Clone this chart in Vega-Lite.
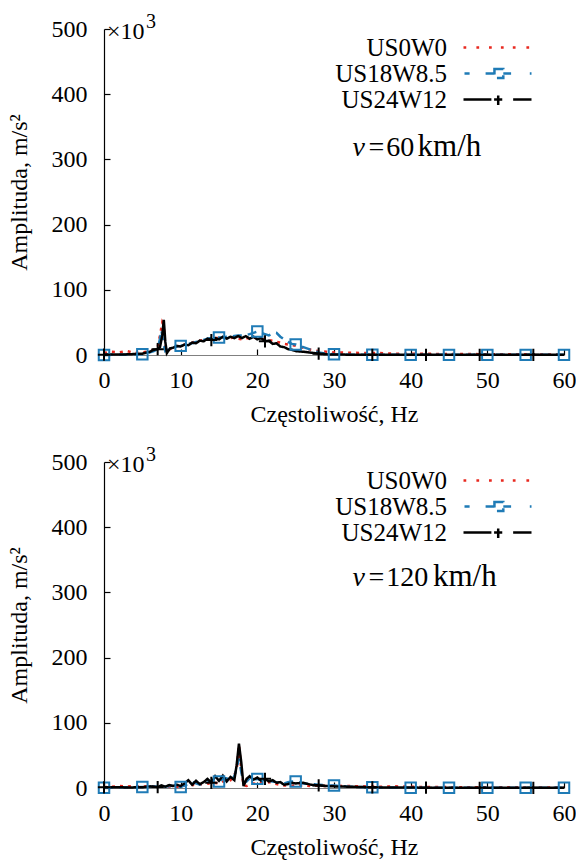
{
  "$schema": "https://vega.github.io/schema/vega-lite/v6.json",
  "background": "white",
  "padding": {"left": 7, "top": 12, "right": 0, "bottom": 5},
  "bounds": "flush",
  "spacing": 107,
  "datasets": {
    "v60": [
      {"s":"US0W0","f":0,"a":3},{"s":"US0W0","f":1,"a":5},{"s":"US0W0","f":2,"a":4},{"s":"US0W0","f":3,"a":6},{"s":"US0W0","f":4,"a":3},{"s":"US0W0","f":5,"a":4},{"s":"US0W0","f":6,"a":6},{"s":"US0W0","f":6.5,"a":8},{"s":"US0W0","f":7,"a":12},{"s":"US0W0","f":7.3,"a":30},{"s":"US0W0","f":7.6,"a":50},{"s":"US0W0","f":7.8,"a":45},{"s":"US0W0","f":8,"a":10},{"s":"US0W0","f":8.3,"a":6},{"s":"US0W0","f":8.6,"a":9},{"s":"US0W0","f":9,"a":11},{"s":"US0W0","f":9.5,"a":13},{"s":"US0W0","f":10,"a":15},{"s":"US0W0","f":10.5,"a":16},{"s":"US0W0","f":11,"a":18},{"s":"US0W0","f":11.5,"a":19},{"s":"US0W0","f":12,"a":21},{"s":"US0W0","f":12.5,"a":22},{"s":"US0W0","f":13,"a":23},{"s":"US0W0","f":13.5,"a":24},{"s":"US0W0","f":14,"a":25},{"s":"US0W0","f":14.5,"a":26},{"s":"US0W0","f":15,"a":26},{"s":"US0W0","f":15.5,"a":27},{"s":"US0W0","f":16,"a":27},{"s":"US0W0","f":16.5,"a":26},{"s":"US0W0","f":17,"a":27},{"s":"US0W0","f":17.5,"a":25},{"s":"US0W0","f":18,"a":24},{"s":"US0W0","f":18.5,"a":26},{"s":"US0W0","f":19,"a":25},{"s":"US0W0","f":19.5,"a":27},{"s":"US0W0","f":20,"a":25},{"s":"US0W0","f":20.5,"a":24},{"s":"US0W0","f":21,"a":25},{"s":"US0W0","f":21.5,"a":23},{"s":"US0W0","f":22,"a":22},{"s":"US0W0","f":22.5,"a":20},{"s":"US0W0","f":23,"a":19},{"s":"US0W0","f":23.5,"a":17},{"s":"US0W0","f":24,"a":16},{"s":"US0W0","f":24.5,"a":15},{"s":"US0W0","f":25,"a":14},{"s":"US0W0","f":26,"a":11},{"s":"US0W0","f":27,"a":8},{"s":"US0W0","f":28,"a":6},{"s":"US0W0","f":29,"a":5},{"s":"US0W0","f":30,"a":4},{"s":"US0W0","f":32,"a":3.5},{"s":"US0W0","f":34,"a":3},{"s":"US0W0","f":36,"a":3},{"s":"US0W0","f":38,"a":2},{"s":"US0W0","f":40,"a":2},{"s":"US0W0","f":42,"a":2},{"s":"US0W0","f":44,"a":1.5},{"s":"US0W0","f":46,"a":1.5},{"s":"US0W0","f":48,"a":1.5},{"s":"US0W0","f":50,"a":1},{"s":"US0W0","f":52,"a":1.2},{"s":"US0W0","f":54,"a":1},{"s":"US0W0","f":56,"a":1},{"s":"US0W0","f":58,"a":0.8},{"s":"US0W0","f":60,"a":0.8},
      {"s":"US18W8.5","f":0,"a":0},{"s":"US18W8.5","f":1,"a":0.5},{"s":"US18W8.5","f":2,"a":0.5},{"s":"US18W8.5","f":3,"a":0.8},{"s":"US18W8.5","f":4,"a":1},{"s":"US18W8.5","f":5,"a":1},{"s":"US18W8.5","f":6,"a":4},{"s":"US18W8.5","f":6.5,"a":6},{"s":"US18W8.5","f":7,"a":9},{"s":"US18W8.5","f":7.3,"a":25},{"s":"US18W8.5","f":7.5,"a":38},{"s":"US18W8.5","f":7.7,"a":20},{"s":"US18W8.5","f":8,"a":6},{"s":"US18W8.5","f":8.3,"a":8},{"s":"US18W8.5","f":8.6,"a":10},{"s":"US18W8.5","f":9,"a":12},{"s":"US18W8.5","f":9.5,"a":13},{"s":"US18W8.5","f":10,"a":14},{"s":"US18W8.5","f":10.5,"a":16},{"s":"US18W8.5","f":11,"a":17},{"s":"US18W8.5","f":11.5,"a":18},{"s":"US18W8.5","f":12,"a":20},{"s":"US18W8.5","f":12.5,"a":21},{"s":"US18W8.5","f":13,"a":23},{"s":"US18W8.5","f":13.5,"a":25},{"s":"US18W8.5","f":14,"a":26},{"s":"US18W8.5","f":14.5,"a":27},{"s":"US18W8.5","f":15,"a":27},{"s":"US18W8.5","f":15.5,"a":27},{"s":"US18W8.5","f":16,"a":28},{"s":"US18W8.5","f":16.5,"a":28},{"s":"US18W8.5","f":17,"a":29},{"s":"US18W8.5","f":17.5,"a":30},{"s":"US18W8.5","f":18,"a":30},{"s":"US18W8.5","f":18.5,"a":31},{"s":"US18W8.5","f":19,"a":32},{"s":"US18W8.5","f":19.5,"a":34},{"s":"US18W8.5","f":20,"a":36},{"s":"US18W8.5","f":20.5,"a":34},{"s":"US18W8.5","f":21,"a":32},{"s":"US18W8.5","f":21.5,"a":30},{"s":"US18W8.5","f":22,"a":33},{"s":"US18W8.5","f":22.5,"a":34},{"s":"US18W8.5","f":23,"a":28},{"s":"US18W8.5","f":23.5,"a":24},{"s":"US18W8.5","f":24,"a":20},{"s":"US18W8.5","f":24.5,"a":17},{"s":"US18W8.5","f":25,"a":16},{"s":"US18W8.5","f":26,"a":12},{"s":"US18W8.5","f":27,"a":8},{"s":"US18W8.5","f":28,"a":4},{"s":"US18W8.5","f":29,"a":2},{"s":"US18W8.5","f":30,"a":1},{"s":"US18W8.5","f":32,"a":0.5},{"s":"US18W8.5","f":35,"a":0.3},{"s":"US18W8.5","f":40,"a":0.2},{"s":"US18W8.5","f":45,"a":0.2},{"s":"US18W8.5","f":50,"a":0.2},{"s":"US18W8.5","f":55,"a":0.2},{"s":"US18W8.5","f":60,"a":0.2},
      {"s":"US24W12","f":0,"a":0.5},{"s":"US24W12","f":1,"a":0.8},{"s":"US24W12","f":2,"a":0.6},{"s":"US24W12","f":3,"a":1},{"s":"US24W12","f":4,"a":1.5},{"s":"US24W12","f":5,"a":2},{"s":"US24W12","f":6,"a":5},{"s":"US24W12","f":6.5,"a":8},{"s":"US24W12","f":7,"a":9},{"s":"US24W12","f":7.3,"a":12},{"s":"US24W12","f":7.6,"a":30},{"s":"US24W12","f":7.8,"a":54},{"s":"US24W12","f":8,"a":20},{"s":"US24W12","f":8.2,"a":3},{"s":"US24W12","f":8.6,"a":10},{"s":"US24W12","f":9,"a":11},{"s":"US24W12","f":9.5,"a":14},{"s":"US24W12","f":10,"a":13},{"s":"US24W12","f":10.5,"a":16},{"s":"US24W12","f":11,"a":15},{"s":"US24W12","f":11.5,"a":19},{"s":"US24W12","f":12,"a":18},{"s":"US24W12","f":12.5,"a":22},{"s":"US24W12","f":13,"a":21},{"s":"US24W12","f":13.5,"a":25},{"s":"US24W12","f":14,"a":23},{"s":"US24W12","f":14.5,"a":26},{"s":"US24W12","f":15,"a":24},{"s":"US24W12","f":15.5,"a":28},{"s":"US24W12","f":16,"a":25},{"s":"US24W12","f":16.5,"a":28},{"s":"US24W12","f":17,"a":26},{"s":"US24W12","f":17.5,"a":29},{"s":"US24W12","f":18,"a":26},{"s":"US24W12","f":18.5,"a":29},{"s":"US24W12","f":19,"a":25},{"s":"US24W12","f":19.5,"a":28},{"s":"US24W12","f":20,"a":24},{"s":"US24W12","f":20.5,"a":26},{"s":"US24W12","f":21,"a":21},{"s":"US24W12","f":21.5,"a":22},{"s":"US24W12","f":22,"a":17},{"s":"US24W12","f":22.5,"a":18},{"s":"US24W12","f":23,"a":13},{"s":"US24W12","f":23.5,"a":12},{"s":"US24W12","f":24,"a":9},{"s":"US24W12","f":24.5,"a":8},{"s":"US24W12","f":25,"a":6},{"s":"US24W12","f":26,"a":5},{"s":"US24W12","f":27,"a":3.5},{"s":"US24W12","f":28,"a":2},{"s":"US24W12","f":29,"a":1},{"s":"US24W12","f":30,"a":0.8},{"s":"US24W12","f":32,"a":0.5},{"s":"US24W12","f":35,"a":0.3},{"s":"US24W12","f":38,"a":0.2},{"s":"US24W12","f":42,"a":0.2},{"s":"US24W12","f":46,"a":0.2},{"s":"US24W12","f":49,"a":0.2},{"s":"US24W12","f":52,"a":0.2},{"s":"US24W12","f":56,"a":0.2},{"s":"US24W12","f":60,"a":0.2}
    ],
    "v120": [
      {"s":"US0W0","f":0,"a":1},{"s":"US0W0","f":1,"a":2},{"s":"US0W0","f":2,"a":3},{"s":"US0W0","f":3,"a":2},{"s":"US0W0","f":4,"a":3},{"s":"US0W0","f":5,"a":2},{"s":"US0W0","f":6,"a":3},{"s":"US0W0","f":7,"a":2},{"s":"US0W0","f":8,"a":2.5},{"s":"US0W0","f":9,"a":2},{"s":"US0W0","f":10,"a":2},{"s":"US0W0","f":10.5,"a":4},{"s":"US0W0","f":11,"a":3},{"s":"US0W0","f":11.5,"a":5},{"s":"US0W0","f":12,"a":4},{"s":"US0W0","f":12.5,"a":6},{"s":"US0W0","f":13,"a":5},{"s":"US0W0","f":13.5,"a":7},{"s":"US0W0","f":14,"a":6},{"s":"US0W0","f":14.5,"a":8},{"s":"US0W0","f":15,"a":7},{"s":"US0W0","f":15.5,"a":10},{"s":"US0W0","f":16,"a":9},{"s":"US0W0","f":16.5,"a":12},{"s":"US0W0","f":17,"a":20},{"s":"US0W0","f":17.3,"a":28},{"s":"US0W0","f":17.6,"a":66},{"s":"US0W0","f":17.9,"a":30},{"s":"US0W0","f":18.2,"a":4},{"s":"US0W0","f":18.6,"a":3},{"s":"US0W0","f":19,"a":5},{"s":"US0W0","f":19.5,"a":7},{"s":"US0W0","f":20,"a":6},{"s":"US0W0","f":20.5,"a":8},{"s":"US0W0","f":21,"a":7},{"s":"US0W0","f":21.5,"a":9},{"s":"US0W0","f":22,"a":8},{"s":"US0W0","f":22.5,"a":6},{"s":"US0W0","f":23,"a":5},{"s":"US0W0","f":23.5,"a":4},{"s":"US0W0","f":24,"a":3.5},{"s":"US0W0","f":25,"a":3.5},{"s":"US0W0","f":26,"a":4},{"s":"US0W0","f":27,"a":3},{"s":"US0W0","f":28,"a":3.5},{"s":"US0W0","f":29,"a":3},{"s":"US0W0","f":30,"a":3.5},{"s":"US0W0","f":32,"a":3},{"s":"US0W0","f":34,"a":2.5},{"s":"US0W0","f":36,"a":2},{"s":"US0W0","f":38,"a":2.5},{"s":"US0W0","f":40,"a":2},{"s":"US0W0","f":42,"a":1.5},{"s":"US0W0","f":44,"a":1.5},{"s":"US0W0","f":46,"a":1.2},{"s":"US0W0","f":48,"a":1.2},{"s":"US0W0","f":50,"a":1},{"s":"US0W0","f":52,"a":1},{"s":"US0W0","f":54,"a":1},{"s":"US0W0","f":56,"a":0.8},{"s":"US0W0","f":58,"a":0.8},{"s":"US0W0","f":60,"a":0.8},
      {"s":"US18W8.5","f":0,"a":0.5},{"s":"US18W8.5","f":1,"a":0.8},{"s":"US18W8.5","f":2,"a":1},{"s":"US18W8.5","f":3,"a":1},{"s":"US18W8.5","f":4,"a":1.2},{"s":"US18W8.5","f":5,"a":1.5},{"s":"US18W8.5","f":6,"a":2},{"s":"US18W8.5","f":7,"a":2.5},{"s":"US18W8.5","f":7.5,"a":3},{"s":"US18W8.5","f":8,"a":2},{"s":"US18W8.5","f":8.5,"a":3},{"s":"US18W8.5","f":9,"a":3.5},{"s":"US18W8.5","f":9.5,"a":2.5},{"s":"US18W8.5","f":10,"a":1.5},{"s":"US18W8.5","f":10.5,"a":4},{"s":"US18W8.5","f":11,"a":6},{"s":"US18W8.5","f":11.5,"a":9},{"s":"US18W8.5","f":12,"a":7},{"s":"US18W8.5","f":12.5,"a":5},{"s":"US18W8.5","f":13,"a":8},{"s":"US18W8.5","f":13.5,"a":12},{"s":"US18W8.5","f":14,"a":10},{"s":"US18W8.5","f":14.5,"a":9},{"s":"US18W8.5","f":15,"a":10},{"s":"US18W8.5","f":15.5,"a":14},{"s":"US18W8.5","f":16,"a":15},{"s":"US18W8.5","f":16.5,"a":10},{"s":"US18W8.5","f":17,"a":18},{"s":"US18W8.5","f":17.3,"a":30},{"s":"US18W8.5","f":17.6,"a":45},{"s":"US18W8.5","f":17.9,"a":25},{"s":"US18W8.5","f":18.2,"a":8},{"s":"US18W8.5","f":18.6,"a":10},{"s":"US18W8.5","f":19,"a":15},{"s":"US18W8.5","f":19.5,"a":12},{"s":"US18W8.5","f":20,"a":14},{"s":"US18W8.5","f":20.5,"a":12},{"s":"US18W8.5","f":21,"a":13},{"s":"US18W8.5","f":21.5,"a":11},{"s":"US18W8.5","f":22,"a":10},{"s":"US18W8.5","f":22.5,"a":9},{"s":"US18W8.5","f":23,"a":8},{"s":"US18W8.5","f":23.5,"a":7},{"s":"US18W8.5","f":24,"a":9},{"s":"US18W8.5","f":24.5,"a":10},{"s":"US18W8.5","f":25,"a":10},{"s":"US18W8.5","f":26,"a":7},{"s":"US18W8.5","f":27,"a":6},{"s":"US18W8.5","f":28,"a":5},{"s":"US18W8.5","f":29,"a":4},{"s":"US18W8.5","f":30,"a":4},{"s":"US18W8.5","f":32,"a":2},{"s":"US18W8.5","f":35,"a":1},{"s":"US18W8.5","f":40,"a":0.5},{"s":"US18W8.5","f":45,"a":0.3},{"s":"US18W8.5","f":50,"a":0.3},{"s":"US18W8.5","f":55,"a":0.3},{"s":"US18W8.5","f":60,"a":0.3},
      {"s":"US24W12","f":0,"a":1},{"s":"US24W12","f":1,"a":1},{"s":"US24W12","f":2,"a":1.2},{"s":"US24W12","f":3,"a":0.8},{"s":"US24W12","f":4,"a":1},{"s":"US24W12","f":5,"a":1.2},{"s":"US24W12","f":6,"a":2.5},{"s":"US24W12","f":7,"a":1.5},{"s":"US24W12","f":7.5,"a":4},{"s":"US24W12","f":8,"a":2},{"s":"US24W12","f":8.5,"a":4.5},{"s":"US24W12","f":9,"a":3},{"s":"US24W12","f":9.5,"a":5},{"s":"US24W12","f":10,"a":3},{"s":"US24W12","f":10.5,"a":7},{"s":"US24W12","f":11,"a":12},{"s":"US24W12","f":11.5,"a":5},{"s":"US24W12","f":12,"a":11},{"s":"US24W12","f":12.5,"a":6},{"s":"US24W12","f":13,"a":9},{"s":"US24W12","f":13.5,"a":14},{"s":"US24W12","f":14,"a":8},{"s":"US24W12","f":14.5,"a":18},{"s":"US24W12","f":15,"a":11},{"s":"US24W12","f":15.5,"a":19},{"s":"US24W12","f":16,"a":10},{"s":"US24W12","f":16.5,"a":17},{"s":"US24W12","f":17,"a":12},{"s":"US24W12","f":17.3,"a":35},{"s":"US24W12","f":17.6,"a":68},{"s":"US24W12","f":17.9,"a":40},{"s":"US24W12","f":18.2,"a":3},{"s":"US24W12","f":18.6,"a":14},{"s":"US24W12","f":19,"a":18},{"s":"US24W12","f":19.5,"a":13},{"s":"US24W12","f":20,"a":16},{"s":"US24W12","f":20.5,"a":11},{"s":"US24W12","f":21,"a":14},{"s":"US24W12","f":21.5,"a":10},{"s":"US24W12","f":22,"a":12},{"s":"US24W12","f":22.5,"a":8},{"s":"US24W12","f":23,"a":9},{"s":"US24W12","f":23.5,"a":5},{"s":"US24W12","f":24,"a":6},{"s":"US24W12","f":24.5,"a":8},{"s":"US24W12","f":25,"a":7},{"s":"US24W12","f":26,"a":8},{"s":"US24W12","f":27,"a":5},{"s":"US24W12","f":28,"a":4},{"s":"US24W12","f":29,"a":3},{"s":"US24W12","f":30,"a":2.5},{"s":"US24W12","f":32,"a":2},{"s":"US24W12","f":35,"a":1},{"s":"US24W12","f":38,"a":0.8},{"s":"US24W12","f":42,"a":0.5},{"s":"US24W12","f":46,"a":0.3},{"s":"US24W12","f":49,"a":0.3},{"s":"US24W12","f":52,"a":0.3},{"s":"US24W12","f":56,"a":0.3},{"s":"US24W12","f":60,"a":0.3}
    ]
  },
  "vconcat": [
    {
      "width": 460, "height": 326,
      "data": {"name": "v60"},
      "layer": [
        {
          "mark": {"type": "line", "strokeWidth": 2.5},
          "encoding": {
            "x": {"field": "f", "type": "quantitative", "scale": {"domain": [0, 60]}, "axis": {"values": [0,10,20,30,40,50,60], "title": "Częstoliwość, Hz"}},
            "y": {"field": "a", "type": "quantitative", "scale": {"domain": [0, 500]}, "axis": {"values": [0,100,200,300,400,500], "title": "Amplituda, m/s²"}},
            "color": {"field": "s", "type": "nominal", "scale": {"domain": ["US0W0","US18W8.5","US24W12"], "range": ["#e8291f","#1f7bb6","#000000"]},
              "legend": {"orient": "none", "legendX": 381, "legendY": 6, "title": null, "labelFont": "Liberation Serif", "labelFontSize": 25, "labelColor": "black", "labelAlign": "right", "labelOffset": -63, "labelLimit": 0, "rowPadding": 0, "padding": 0, "symbolSize": 100, "symbolStrokeWidth": 2.5,
                "encode": {"symbols": {"update": {"shape": {"signal": "datum.value == 'US0W0' ? 'M-6.8,0h0.55M-4.22,0h0.55M-1.7,0h0.55M0.68,0h0.55M3.06,0h0.55M5.78,0h0.55' : datum.value == 'US18W8.5' ? 'M-6.6,0H-5.58M-2.38,0H-0.61M1.16,0H2.72M6.46,0H6.8M-0.61,-0.88H1.16V0.88H-0.61Z' : 'M-6.8,0H-1.22M-0.68,0H0.95M0.14,-0.82V1.09M3.13,0H6.8'"}, "fill": {"value": "transparent"}, "strokeDash": {"value": [1, 0]}, "opacity": {"value": 1}}}}}},
            "strokeDash": {"field": "s", "type": "nominal", "scale": {"domain": ["US0W0","US18W8.5","US24W12"], "range": [[3,5],[9,6],[1,0]]}, "legend": null}
          }
        },
        {
          "transform": [{"filter": "datum.s == 'US18W8.5' && datum.f % 5 == 0"}],
          "mark": {"type": "point", "shape": "square", "size": 110, "fill": "white", "fillOpacity": 0, "stroke": "#1f7bb6", "strokeWidth": 2, "opacity": 1},
          "encoding": {"x": {"field": "f", "type": "quantitative"}, "y": {"field": "a", "type": "quantitative"}}
        },
        {
          "transform": [{"filter": "datum.s == 'US24W12' && datum.f % 7 == 0"}],
          "mark": {"type": "point", "shape": "M-1,0H1M0,-1V1", "size": 150, "stroke": "black", "strokeWidth": 2, "opacity": 1},
          "encoding": {"x": {"field": "f", "type": "quantitative"}, "y": {"field": "a", "type": "quantitative"}}
        },
        {
          "data": {"values": [{"t": "×10"}]},
          "mark": {"type": "text", "font": "Liberation Serif", "fontSize": 24, "align": "left", "baseline": "alphabetic", "dx": 3, "dy": 10, "color": "black"},
          "encoding": {"x": {"datum": 0, "type": "quantitative"}, "y": {"datum": 500, "type": "quantitative"}, "text": {"field": "t"}}
        },
        {
          "data": {"values": [{"t": "3"}]},
          "mark": {"type": "text", "font": "Liberation Serif", "fontSize": 20, "align": "left", "baseline": "alphabetic", "dx": 42, "dy": -1, "color": "black"},
          "encoding": {"x": {"datum": 0, "type": "quantitative"}, "y": {"datum": 500, "type": "quantitative"}, "text": {"field": "t"}}
        },
        {
          "data": {"values": [{"t": "v"}]},
          "mark": {"type": "text", "font": "Liberation Serif", "fontSize": 28, "fontStyle": "italic", "align": "left", "baseline": "alphabetic", "color": "black"},
          "encoding": {"x": {"datum": 32.4, "type": "quantitative"}, "y": {"datum": 305, "type": "quantitative"}, "text": {"field": "t"}}
        },
        {
          "data": {"values": [{"t": "=", "x": 34.5}, {"t": "60", "x": 36.8}]},
          "mark": {"type": "text", "font": "Liberation Serif", "fontSize": 28, "align": "left", "baseline": "alphabetic", "color": "black"},
          "encoding": {"x": {"field": "x", "type": "quantitative"}, "y": {"datum": 305, "type": "quantitative"}, "text": {"field": "t"}}
        },
        {
          "data": {"values": [{"t": "km/h"}]},
          "mark": {"type": "text", "font": "Liberation Serif", "fontSize": 31, "align": "left", "baseline": "alphabetic", "color": "black"},
          "encoding": {"x": {"datum": 40.9, "type": "quantitative"}, "y": {"datum": 305, "type": "quantitative"}, "text": {"field": "t"}}
        }
      ]
    },
    {
      "width": 460, "height": 326,
      "data": {"name": "v120"},
      "layer": [
        {
          "mark": {"type": "line", "strokeWidth": 2.5},
          "encoding": {
            "x": {"field": "f", "type": "quantitative", "scale": {"domain": [0, 60]}, "axis": {"values": [0,10,20,30,40,50,60], "title": "Częstoliwość, Hz"}},
            "y": {"field": "a", "type": "quantitative", "scale": {"domain": [0, 500]}, "axis": {"values": [0,100,200,300,400,500], "title": "Amplituda, m/s²"}},
            "color": {"field": "s", "type": "nominal", "scale": {"domain": ["US0W0","US18W8.5","US24W12"], "range": ["#e8291f","#1f7bb6","#000000"]},
              "legend": {"orient": "none", "legendX": 381, "legendY": 6, "title": null, "labelFont": "Liberation Serif", "labelFontSize": 25, "labelColor": "black", "labelAlign": "right", "labelOffset": -63, "labelLimit": 0, "rowPadding": 0, "padding": 0, "symbolSize": 100, "symbolStrokeWidth": 2.5,
                "encode": {"symbols": {"update": {"shape": {"signal": "datum.value == 'US0W0' ? 'M-6.8,0h0.55M-4.22,0h0.55M-1.7,0h0.55M0.68,0h0.55M3.06,0h0.55M5.78,0h0.55' : datum.value == 'US18W8.5' ? 'M-6.6,0H-5.58M-2.38,0H-0.61M1.16,0H2.72M6.46,0H6.8M-0.61,-0.88H1.16V0.88H-0.61Z' : 'M-6.8,0H-1.22M-0.68,0H0.95M0.14,-0.82V1.09M3.13,0H6.8'"}, "fill": {"value": "transparent"}, "strokeDash": {"value": [1, 0]}, "opacity": {"value": 1}}}}}},
            "strokeDash": {"field": "s", "type": "nominal", "scale": {"domain": ["US0W0","US18W8.5","US24W12"], "range": [[3,5],[9,6],[1,0]]}, "legend": null}
          }
        },
        {
          "transform": [{"filter": "datum.s == 'US18W8.5' && datum.f % 5 == 0"}],
          "mark": {"type": "point", "shape": "square", "size": 110, "fill": "white", "fillOpacity": 0, "stroke": "#1f7bb6", "strokeWidth": 2, "opacity": 1},
          "encoding": {"x": {"field": "f", "type": "quantitative"}, "y": {"field": "a", "type": "quantitative"}}
        },
        {
          "transform": [{"filter": "datum.s == 'US24W12' && datum.f % 7 == 0"}],
          "mark": {"type": "point", "shape": "M-1,0H1M0,-1V1", "size": 150, "stroke": "black", "strokeWidth": 2, "opacity": 1},
          "encoding": {"x": {"field": "f", "type": "quantitative"}, "y": {"field": "a", "type": "quantitative"}}
        },
        {
          "data": {"values": [{"t": "×10"}]},
          "mark": {"type": "text", "font": "Liberation Serif", "fontSize": 24, "align": "left", "baseline": "alphabetic", "dx": 3, "dy": 10, "color": "black"},
          "encoding": {"x": {"datum": 0, "type": "quantitative"}, "y": {"datum": 500, "type": "quantitative"}, "text": {"field": "t"}}
        },
        {
          "data": {"values": [{"t": "3"}]},
          "mark": {"type": "text", "font": "Liberation Serif", "fontSize": 20, "align": "left", "baseline": "alphabetic", "dx": 42, "dy": -1, "color": "black"},
          "encoding": {"x": {"datum": 0, "type": "quantitative"}, "y": {"datum": 500, "type": "quantitative"}, "text": {"field": "t"}}
        },
        {
          "data": {"values": [{"t": "v"}]},
          "mark": {"type": "text", "font": "Liberation Serif", "fontSize": 28, "fontStyle": "italic", "align": "left", "baseline": "alphabetic", "color": "black"},
          "encoding": {"x": {"datum": 32.4, "type": "quantitative"}, "y": {"datum": 310, "type": "quantitative"}, "text": {"field": "t"}}
        },
        {
          "data": {"values": [{"t": "=", "x": 34.5}, {"t": "120", "x": 36.8}]},
          "mark": {"type": "text", "font": "Liberation Serif", "fontSize": 28, "align": "left", "baseline": "alphabetic", "color": "black"},
          "encoding": {"x": {"field": "x", "type": "quantitative"}, "y": {"datum": 310, "type": "quantitative"}, "text": {"field": "t"}}
        },
        {
          "data": {"values": [{"t": "km/h"}]},
          "mark": {"type": "text", "font": "Liberation Serif", "fontSize": 31, "align": "left", "baseline": "alphabetic", "color": "black"},
          "encoding": {"x": {"datum": 42.9, "type": "quantitative"}, "y": {"datum": 310, "type": "quantitative"}, "text": {"field": "t"}}
        }
      ]
    }
  ],
  "resolve": {"scale": {"color": "independent", "strokeDash": "independent"}, "legend": {"color": "independent", "strokeDash": "independent"}},
  "config": {
    "view": {"stroke": null},
    "font": "Liberation Serif",
    "axis": {"grid": false, "labelFlush": false, "labelFont": "Liberation Serif", "labelFontSize": 24, "labelColor": "black", "titleFont": "Liberation Serif", "titleFontSize": 24, "titleFontWeight": "normal", "titleColor": "black", "tickColor": "black", "domainColor": "black", "tickSize": -6, "domainWidth": 1.2, "tickWidth": 1.2},
    "axisX": {"domainColor": "#808080", "labelPadding": 19, "titlePadding": 10},
    "axisY": {"labelPadding": 23, "titlePadding": 20}
  }
}
